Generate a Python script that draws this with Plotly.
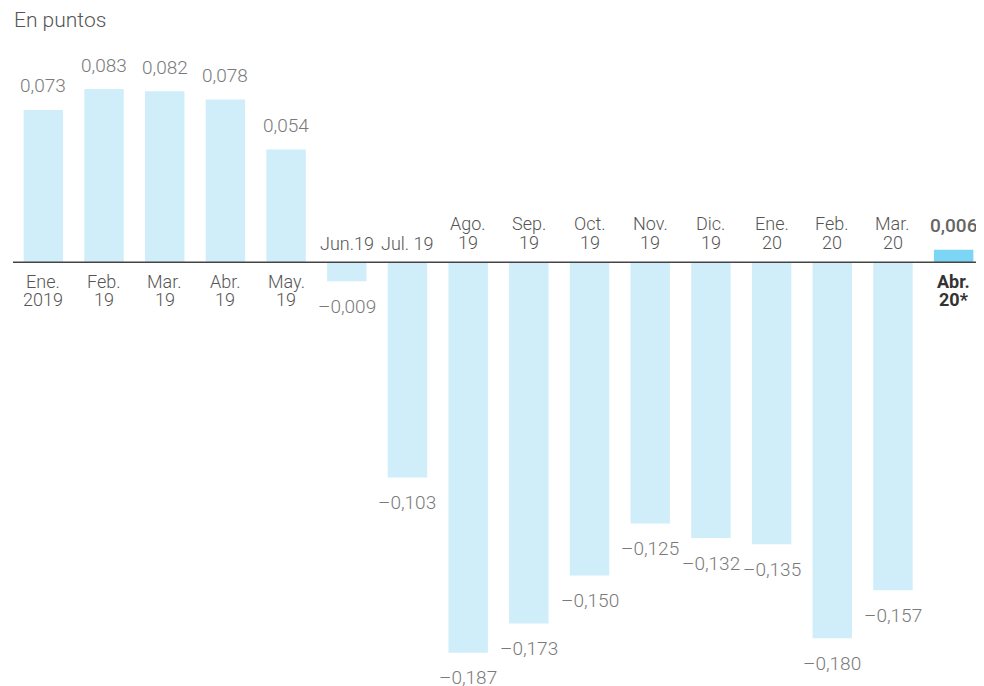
import plotly.graph_objects as go

# ---- data ----
months = ["Ene.", "Feb.", "Mar.", "Abr.", "May.", "Jun.19", "Jul. 19", "Ago.",
          "Sep.", "Oct.", "Nov.", "Dic.", "Ene.", "Feb.", "Mar.", "Abr."]
years = ["2019", "19", "19", "19", "19", "", "", "19",
         "19", "19", "19", "19", "20", "20", "20", "20*"]
values = [0.073, 0.083, 0.082, 0.078, 0.054, -0.009, -0.103, -0.187,
          -0.173, -0.150, -0.125, -0.132, -0.135, -0.180, -0.157, 0.006]
highlight_index = 15
title_text = "En puntos"

categories = [(m + " " + y).strip() for m, y in zip(months, years)]

LIGHT = "#d0eefa"
STRONG = "#7dd5f5"
colors = [STRONG if i == highlight_index else LIGHT for i in range(len(values))]

FONT = "Roboto"
VAL_COLOR = "#7a7a7a"
LAB_COLOR = "#555555"

fig = go.Figure()
fig.add_trace(go.Bar(
    x=categories, y=values, marker=dict(color=colors, line=dict(width=0)),
    hoverinfo="skip", showlegend=False,
))


def fmt(v):
    s = f"{abs(v):.3f}".replace(".", ",")
    return ("–" + s) if v < 0 else s


annotations = []
for i, (c, v, m, y) in enumerate(zip(categories, values, months, years)):
    hl = i == highlight_index
    # value label
    annotations.append(dict(
        x=c, y=v, xref="x", yref="y", text=fmt(v), showarrow=False,
        yanchor="middle", xanchor="center",
        yshift=24 if v >= 0 else -25,
        font=dict(family=FONT, size=19, color="#666666" if hl else VAL_COLOR,
                  weight=500 if hl else 300),
    ))
    # category label (one or two lines)
    lab_color = "#333333" if hl else LAB_COLOR
    lines = [m] + ([y] if y else [])
    if v >= 0:
        shifts = [-19, -37]
    else:
        shifts = [19] if len(lines) == 1 else [39, 20]
    for ln, sh in zip(lines, shifts):
        annotations.append(dict(
            x=c, y=0, xref="x", yref="y", text=ln, showarrow=False,
            yanchor="middle", xanchor="center", yshift=sh,
            font=dict(family=FONT, size=18, color=lab_color,
                      weight=700 if hl else 300),
        ))

annotations.append(dict(
    x=0, y=1, xref="paper", yref="paper", text=title_text, showarrow=False,
    xanchor="left", yanchor="middle", xshift=-1, yshift=44,
    font=dict(family=FONT, size=21, color="#555555", weight=300),
))

fig.update_layout(
    width=976, height=678,
    margin=dict(l=5, r=0, t=56, b=6),
    paper_bgcolor="white", plot_bgcolor="white",
    bargap=0.35,
    xaxis=dict(visible=False, type="category", range=[-0.5, len(values) - 0.5]),
    yaxis=dict(visible=False, range=[-0.2, 0.095]),
    annotations=annotations,
    shapes=[dict(type="line", xref="paper", yref="y", x0=0, x1=1, y0=0, y1=0,
                 line=dict(color="#444444", width=1.5))],
    font=dict(family=FONT),
)

fig.write_html("out.html")
